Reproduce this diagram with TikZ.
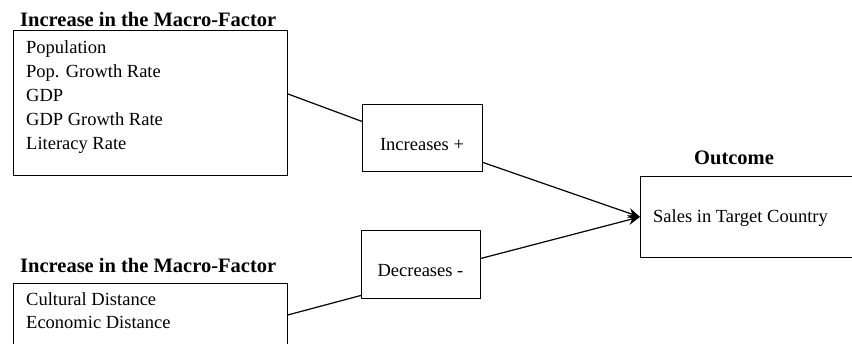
\documentclass[tikz,border=0pt]{standalone}
\usepackage{fontspec}
\setmainfont{Liberation Serif}
\usetikzlibrary{arrows.meta}

\tikzset{
  factorbox/.style={draw, line width=0.9pt, anchor=north west, inner sep=0pt},
  item/.style={anchor=base west, inner sep=0pt, font=\fontsize{18.5}{22}\selectfont},
  heading/.style={anchor=base west, inner sep=0pt, font=\fontsize{20.5}{24}\selectfont\bfseries},
  link/.style={line width=1.2pt},
  effect/.style={link, -{Stealth[length=12pt,width=10pt]}},
}

\begin{document}
\begin{tikzpicture}[x=1pt,y=-1pt]
\useasboundingbox (0,0) rectangle (852,344);

% macro factors that increase sales
\node[heading] (head1) at (20,27) {Increase in the Macro-Factor};
\node[factorbox, minimum width=274pt, minimum height=145pt] (macro1) at (13,30) {};
\node[item] (pop) at (26,54) {Population};
\node[item] (popgr) at (26,78) {Pop. Growth Rate};
\node[item] (gdp) at (26,102) {GDP};
\node[item] (gdpgr) at (26,126) {GDP Growth Rate};
\node[item] (lit) at (26,150) {Literacy Rate};

% macro factors that decrease sales
\node[heading] (head2) at (20,273) {Increase in the Macro-Factor};
\node[factorbox, minimum width=274pt, minimum height=66pt] (macro2) at (13,283) {};
\node[item] (cult) at (26,306) {Cultural Distance};
\node[item] (econ) at (26,329) {Economic Distance};

% direction of effect
\node[factorbox, minimum width=120pt, minimum height=67pt] (inc) at (362,104) {};
\node[item, anchor=base] at (422,151) {Increases +};
\node[factorbox, minimum width=119pt, minimum height=68pt] (dec) at (361,230) {};
\node[item, anchor=base] at (420.5,277) {Decreases -};

% outcome
\node[heading, anchor=base] (head3) at (734,165) {Outcome};
\node[factorbox, minimum width=220pt, minimum height=81pt] (sales) at (640,176) {};
\node[item] (salestext) at (653,223) {Sales in Target Country};

\draw[link] ([yshift=9pt]macro1.east) -- ([yshift=16.5pt]inc.west);
\draw[link] ([yshift=1.5pt]macro2.east) -- ([yshift=-31pt]dec.west);
\draw[effect] ([yshift=-24.5pt]inc.east) -- (sales.west);
\draw[effect] ([yshift=6pt]dec.east) -- (sales.west);
\end{tikzpicture}
\end{document}
